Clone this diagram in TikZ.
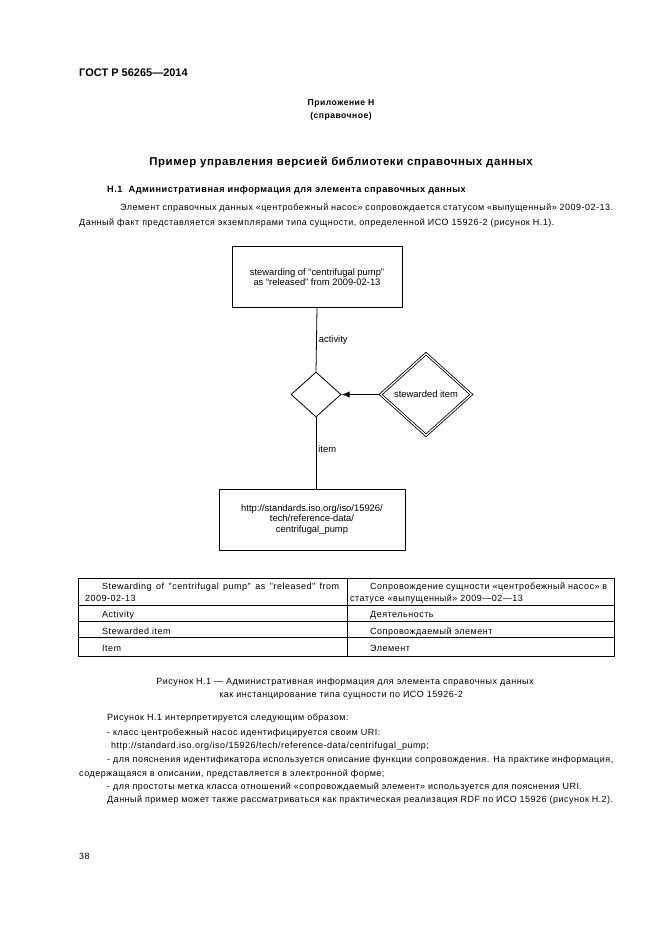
\documentclass[tikz,border=0pt]{standalone}
\usepackage{fontspec}
\setmainfont{Liberation Sans}
\newfontfamily\gostfont[LetterSpace=5.5]{Liberation Sans}
\usetikzlibrary{shapes.geometric}
\usetikzlibrary{arrows}

\begin{document}
\begin{tikzpicture}[x=1pt, y=-1pt,
  txt/.style={anchor=base west, inner sep=0pt, font=\gostfont\fontsize{9}{11}\selectfont},
  ctxt/.style={txt, anchor=base},
  btxt/.style={txt, font=\gostfont\bfseries\fontsize{9.2}{11}\selectfont},
  entity/.style={draw, line width=0.8pt, rectangle, align=center, inner sep=0pt,
    font=\fontsize{9.4}{10.3}\selectfont},
  relation/.style={draw, line width=0.8pt, diamond, inner sep=0pt, aspect=1,
    font=\fontsize{9.4}{10.3}\selectfont},
  role/.style={right=2pt, inner sep=0pt, font=\fontsize{9.4}{10.3}\selectfont}]

\fill[white] (0,0) rectangle (661,936);
\useasboundingbox (0,0) rectangle (661,936);

% Page head and headings
\node[txt, font=\bfseries\fontsize{11}{13}\selectfont] (head) at (79,77) {ГОСТ Р 56265—2014};
\node[ctxt, font=\gostfont\bfseries\fontsize{8.6}{11}\selectfont] (annex) at (341,106) {Приложение Н};
\node[ctxt, font=\gostfont\bfseries\fontsize{8.6}{11}\selectfont] (annexkind) at (341,119) {(справочное)};
\node[ctxt, font=\gostfont\bfseries\fontsize{11.4}{13}\selectfont] (title) at (341,166) {Пример управления версией библиотеки справочных данных};
\node[btxt] (sect) at (107,193) {Н.1\ \ Административная информация для элемента справочных данных};

% Paragraph before the figure
\node[txt] (par1) at (120,211) {\makebox[493pt][s]{Элемент справочных данных «центробежный насос» сопровождается статусом «выпущенный» 2009-02-13.}};
\node[txt] (par2) at (79,225) {Данный факт представляется экземплярами типа сущности, определенной ИСО 15926-2 (рисунок Н.1).};

% Diagram
\node[entity, minimum width=170, minimum height=61] (stewarding) at (317,277)
  {stewarding of “centrifugal pump”\\as “released” from 2009-02-13};
\node[relation, minimum width=50, minimum height=45] (rel) at (316,394.5) {};
\node[relation, double, double distance=1.2pt, minimum width=91, minimum height=82] (stewitem) at (426,394.5) {stewarded item};
\node[entity, minimum width=186, minimum height=61] (pump) at (312,519.5)
  {http://standards.iso.org/iso/15926/\\tech/reference-data/\\centrifugal\_pump};

\draw[line width=0.8pt] (stewarding.south) -- node[role] (lactivity) {activity} (rel.north);
\draw[line width=0.8pt] (rel.south) -- node[role, pos=0.45] (litem) {item} (rel.south |- pump.north);
\draw[->, >=latex, line width=1.8pt] (stewitem.west) -- (rel.east);

% Table of terms
\draw[line width=0.8pt] (78,578) rectangle (614,656);
\draw[line width=0.8pt] (78,605) -- (614,605);
\draw[line width=0.8pt] (78,621) -- (614,621);
\draw[line width=0.8pt] (78,637) -- (614,637);
\draw[line width=0.8pt] (347,578) -- (347,656);

\node[txt] (en1) at (102,589) {\makebox[237pt][s]{Stewarding of "centrifugal pump" as "released" from}};
\node[txt] (en1b) at (85,601) {2009-02-13};
\node[txt] (en2) at (102,617) {Activity};
\node[txt] (en3) at (102,634) {Stewarded item};
\node[txt] (en4) at (102,651) {Item};
\node[txt] (ru1) at (370,589) {\makebox[237pt][s]{Сопровождение сущности «центробежный насос» в}};
\node[txt] (ru1b) at (350,601) {статусе «выпущенный» 2009—02—13};
\node[txt] (ru2) at (370,617) {Деятельность};
\node[txt] (ru3) at (370,634) {Сопровождаемый элемент};
\node[txt] (ru4) at (370,651) {Элемент};

% Caption
\node[ctxt] (cap1) at (345,684) {Рисунок Н.1 — Административная информация для элемента справочных данных};
\node[ctxt] (cap2) at (341,697) {как инстанцирование типа сущности по ИСО 15926-2};

% Text after the figure
\node[txt] (t1) at (107,720) {Рисунок Н.1 интерпретируется следующим образом:};
\node[txt] (t2) at (107,735) {- класс центробежный насос идентифицируется своим URI:};
\node[txt] (t3) at (111,748) {http://standard.iso.org/iso/15926/tech/reference-data/centrifugal\_pump;};
\node[txt] (t4) at (107,762) {\makebox[506pt][s]{- для пояснения идентификатора используется описание функции сопровождения. На практике информация,}};
\node[txt] (t5) at (79,776) {содержащаяся в описании, представляется в электронной форме;};
\node[txt] (t6) at (107,789) {- для простоты метка класса отношений «сопровождаемый элемент» используется для пояснения URI.};
\node[txt] (t7) at (107,802) {\makebox[506pt][s]{Данный пример может также рассматриваться как практическая реализация RDF по ИСО 15926 (рисунок Н.2).}};

\node[txt] (pageno) at (79,859) {38};

\end{tikzpicture}
\end{document}
